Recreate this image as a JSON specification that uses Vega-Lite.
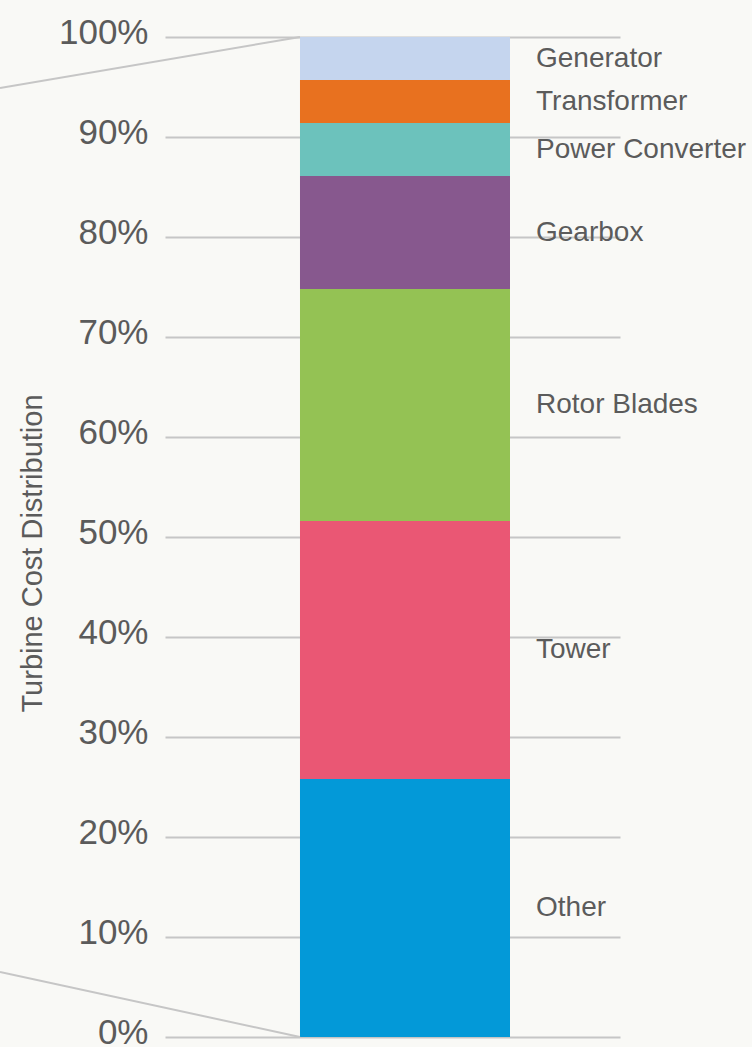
{
  "$schema": "https://vega.github.io/schema/vega-lite/v6.json",
  "width": 455,
  "height": 1000,
  "autosize": {"type": "none"},
  "padding": {"left": 165, "top": 37, "right": 132, "bottom": 10},
  "background": "#f9f9f6",
  "config": {"view": {"stroke": null}, "font": "Liberation Sans"},
  "datasets": {
    "costs": [
      {"component": "Other", "share": 25.8, "rank": 1},
      {"component": "Tower", "share": 25.8, "rank": 2},
      {"component": "Rotor Blades", "share": 23.2, "rank": 3},
      {"component": "Gearbox", "share": 11.3, "rank": 4},
      {"component": "Power Converter", "share": 5.3, "rank": 5},
      {"component": "Transformer", "share": 4.3, "rank": 6},
      {"component": "Generator", "share": 4.3, "rank": 7}
    ],
    "callout": [
      {"edge": "top", "colFrom": 0, "colTo": 1, "shareFrom": 94.9, "shareTo": 100},
      {"edge": "bottom", "colFrom": 0, "colTo": 1, "shareFrom": 6.5, "shareTo": 0}
    ]
  },
  "layer": [
    {
      "data": {"name": "costs"},
      "transform": [
        {"stack": "share", "groupby": [], "sort": [{"field": "rank", "order": "ascending"}], "as": ["lo", "hi"]}
      ],
      "mark": {"type": "bar"},
      "encoding": {
        "x": {
          "datum": "Turbine",
          "type": "nominal",
          "scale": {"type": "band", "paddingInner": 0, "paddingOuter": 0.5833, "align": 0.551},
          "axis": null
        },
        "y": {
          "field": "lo",
          "type": "quantitative",
          "scale": {"domain": [0, 100], "nice": false},
          "axis": {
            "title": "Turbine Cost Distribution",
            "values": [0, 10, 20, 30, 40, 50, 60, 70, 80, 90, 100],
            "labelExpr": "datum.value + '%'",
            "grid": true,
            "gridColor": "#c6c6c6",
            "gridWidth": 2,
            "domain": false,
            "ticks": false,
            "labelPadding": 17,
            "labelFont": "Liberation Sans",
            "labelFontSize": 35,
            "labelColor": "#5b5b5b",
            "labelBaseline": "middle",
            "labelOffset": -5,
            "titleFont": "Liberation Sans",
            "titleFontSize": 29,
            "titleFontWeight": "normal",
            "titleColor": "#5b5b5b",
            "titleAngle": 270,
            "titleBaseline": "middle",
            "titleX": -133,
            "titleY": 516
          }
        },
        "y2": {"field": "hi"},
        "color": {
          "field": "component",
          "type": "nominal",
          "scale": {
            "domain": ["Other", "Tower", "Rotor Blades", "Gearbox", "Power Converter", "Transformer", "Generator"],
            "range": ["#0399d8", "#ea5774", "#94c254", "#87588e", "#6cc2bc", "#e8711f", "#c5d5ee"]
          },
          "legend": null
        }
      }
    },
    {
      "data": {"name": "costs"},
      "transform": [
        {"stack": "share", "groupby": [], "sort": [{"field": "rank", "order": "ascending"}], "as": ["lo", "hi"]},
        {"calculate": "(datum.lo + datum.hi) / 2", "as": "mid"}
      ],
      "mark": {
        "type": "text",
        "align": "left",
        "baseline": "middle",
        "dx": 26,
        "font": "Liberation Sans",
        "fontSize": 28,
        "color": "#5b5b5b"
      },
      "encoding": {
        "x": {
          "datum": "Turbine",
          "type": "nominal",
          "bandPosition": 1,
          "scale": {"type": "band", "paddingInner": 0, "paddingOuter": 0.5833, "align": 0.551},
          "axis": null
        },
        "y": {"field": "mid", "type": "quantitative", "title": "Turbine Cost Distribution"},
        "text": {"field": "component"}
      }
    },
    {
      "data": {"name": "callout"},
      "mark": {"type": "rule", "color": "#c6c6c6", "strokeWidth": 2, "clip": false},
      "encoding": {
        "x": {
          "field": "colFrom",
          "type": "quantitative",
          "scale": {"domain": [0, 1], "range": [-165, 135]},
          "axis": null
        },
        "x2": {"field": "colTo"},
        "y": {"field": "shareFrom", "type": "quantitative", "title": "Turbine Cost Distribution"},
        "y2": {"field": "shareTo"}
      }
    }
  ],
  "resolve": {"scale": {"x": "independent"}}
}
